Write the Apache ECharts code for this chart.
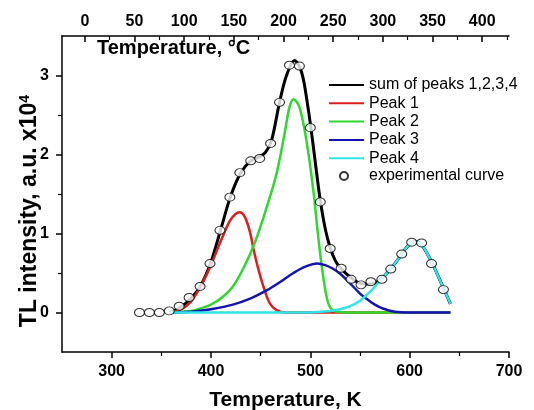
<!DOCTYPE html>
<html>
<head>
<meta charset="utf-8">
<script src="https://cdn.jsdelivr.net/npm/echarts@6/dist/echarts.min.js"></script>
<style>
  html, body { margin: 0; padding: 0; background: #fff; }
  #chart { width: 534px; height: 410px; }
</style>
</head>
<body>
<div id="chart"></div>
<script>
// temperatures in K, intensities in units of 1e4
const expT = [328, 338, 348, 358, 368, 378, 389, 399, 409, 419, 429, 440, 449, 460, 469, 479, 489, 500, 510, 520, 531, 541, 551, 561, 572, 581, 592, 602, 612, 622, 634];
const expI = [0.00, 0.00, 0.00, 0.02, 0.08, 0.19, 0.33, 0.62, 1.04, 1.46, 1.77, 1.92, 1.95, 2.14, 2.66, 3.13, 3.12, 2.34, 1.40, 0.81, 0.56, 0.42, 0.35, 0.39, 0.42, 0.55, 0.74, 0.89, 0.88, 0.62, 0.29];

const sumT = [358, 365, 370, 380, 390, 400, 410, 420, 430, 440, 449, 455, 461, 469, 476, 484, 491, 497, 502, 506, 510, 515, 520, 525, 530, 540, 550, 560, 570, 580, 590, 598, 606, 612, 622, 634, 641];
const sumI = [0.00, 0.03, 0.07, 0.18, 0.35, 0.64, 1.06, 1.48, 1.77, 1.92, 1.97, 2.03, 2.18, 2.66, 3.00, 3.19, 3.05, 2.65, 2.20, 1.80, 1.42, 1.06, 0.82, 0.66, 0.57, 0.45, 0.37, 0.36, 0.41, 0.54, 0.70, 0.84, 0.90, 0.86, 0.64, 0.31, 0.11];

const peak1T = [358, 370, 380, 389, 399, 409, 419, 425, 429, 434, 439, 443, 447, 452, 459, 466, 475, 641];
const peak1I = [0.00, 0.04, 0.14, 0.32, 0.57, 0.88, 1.16, 1.25, 1.27, 1.21, 1.03, 0.79, 0.58, 0.36, 0.12, 0.03, 0.00, 0.00];

const peak2T = [358, 370, 380, 389, 400, 411, 422, 433, 444, 456, 466, 474, 479, 483, 489, 496, 503, 508, 513, 518, 524, 535, 641];
const peak2I = [0.00, 0.01, 0.02, 0.05, 0.10, 0.19, 0.33, 0.57, 0.88, 1.33, 1.76, 2.26, 2.60, 2.70, 2.60, 2.18, 1.55, 0.95, 0.45, 0.12, 0.02, 0.00, 0.00];

const peak3T = [358, 380, 400, 422, 440, 456, 470, 483, 495, 507, 515, 522, 530, 540, 550, 557, 565, 573, 585, 600, 641];
const peak3I = [0.00, 0.01, 0.04, 0.10, 0.18, 0.28, 0.39, 0.50, 0.58, 0.62, 0.60, 0.56, 0.49, 0.37, 0.24, 0.17, 0.10, 0.05, 0.01, 0.00, 0.00];

const peak4T = [358, 500, 510, 520, 530, 540, 550, 560, 570, 580, 590, 598, 606, 612, 622, 634, 641];
const peak4I = [0.00, 0.00, 0.01, 0.02, 0.04, 0.08, 0.15, 0.26, 0.40, 0.54, 0.70, 0.84, 0.90, 0.86, 0.64, 0.31, 0.11];

const kMajor = [300, 400, 500, 600, 700];
const kMinor = [350, 450, 550, 650];
const cMajor = [0, 50, 100, 150, 200, 250, 300, 350, 400];
const cMinor = [25, 75, 125, 175, 225, 275, 325, 375, 425];
const yMajor = [0, 1, 2, 3];
const yMinor = [0.5, 1.5, 2.5];

const lineNames = ['sum of peaks 1,2,3,4', 'Peak 1', 'Peak 2', 'Peak 3', 'Peak 4'];
const expName = 'experimental curve';

const FONT = 'Arial, "Liberation Sans", sans-serif';
const zip = (xs, ys) => xs.map((x, i) => [x, ys[i]]);

function lineSeries(name, xs, ys, color, width) {
  return {
    name: name,
    type: 'line',
    xAxisIndex: 0,
    yAxisIndex: 0,
    data: zip(xs, ys),
    symbol: 'none',
    smooth: 0.35,
    color: color,
    lineStyle: { color: color, width: width },
    silent: true
  };
}

const axisBlack = { show: true, onZero: false, lineStyle: { color: '#000', width: 1.5 } };
const noLine = { show: false, onZero: false };
const tickLabel = { color: '#000', fontFamily: FONT, fontWeight: 'bold', fontSize: 16 };

const chart = echarts.init(document.getElementById('chart'));
chart.setOption({
  animation: false,
  backgroundColor: '#fff',
  grid: { left: 62, right: 25, top: 36, bottom: 58, containLabel: false, outerBoundsMode: 'none' },
  xAxis: [
    {
      type: 'value', position: 'bottom', min: 250, max: 700,
      axisLine: axisBlack,
      axisTick: { show: true, customValues: kMajor, length: 6, lineStyle: { color: '#000', width: 1.5 } },
      axisLabel: Object.assign({ customValues: kMajor, margin: 12 }, tickLabel),
      splitLine: { show: false },
      name: 'Temperature, K', nameLocation: 'middle', nameGap: 38,
      nameTextStyle: { color: '#000', fontFamily: FONT, fontWeight: 'bold', fontSize: 21 }
    },
    {
      type: 'value', position: 'bottom', min: 250, max: 700,
      axisLine: noLine,
      axisTick: { show: true, customValues: kMinor, length: 4, lineStyle: { color: '#000', width: 1.2 } },
      axisLabel: { show: false },
      splitLine: { show: false }
    },
    {
      type: 'value', position: 'top', min: 250 - 273, max: 700 - 273,
      axisLine: axisBlack,
      axisTick: { show: true, inside: true, customValues: cMajor, length: 6, lineStyle: { color: '#000', width: 1.5 } },
      axisLabel: Object.assign({ customValues: cMajor, margin: 6 }, tickLabel),
      splitLine: { show: false }
    },
    {
      type: 'value', position: 'top', min: 250 - 273, max: 700 - 273,
      axisLine: noLine,
      axisTick: { show: true, inside: true, customValues: cMinor, length: 4, lineStyle: { color: '#000', width: 1.2 } },
      axisLabel: { show: false },
      splitLine: { show: false }
    }
  ],
  yAxis: [
    {
      type: 'value', position: 'left', min: -0.5, max: 3.5,
      axisLine: axisBlack,
      axisTick: { show: true, customValues: yMajor, length: 6, lineStyle: { color: '#000', width: 1.5 } },
      axisLabel: Object.assign({ customValues: yMajor, margin: 13 }, tickLabel),
      splitLine: { show: false }
    },
    {
      type: 'value', position: 'left', offset: 0, min: -0.5, max: 3.5,
      axisLine: noLine,
      axisTick: { show: true, customValues: yMinor, length: 4, lineStyle: { color: '#000', width: 1.2 } },
      axisLabel: { show: false },
      splitLine: { show: false }
    }
  ],
  legend: [
    {
      data: lineNames,
      orient: 'vertical', left: 328, top: 77, padding: 0,
      itemWidth: 35, itemHeight: 16, itemGap: 2.3,
      itemStyle: { opacity: 0 },
      textStyle: { color: '#000', fontFamily: FONT, fontSize: 16, lineHeight: 16 },
      selectedMode: false
    },
    {
      data: [expName],
      orient: 'vertical', left: 339, top: 168, padding: 0,
      itemWidth: 8, itemHeight: 8,
      textStyle: { color: '#000', fontFamily: FONT, fontSize: 16, lineHeight: 16, padding: [0, 0, 0, 16] },
      selectedMode: false
    }
  ],
  graphic: [
    {
      type: 'text', x: 97, y: 48,
      style: {
        text: 'Temperature, °C', fill: '#000', font: 'bold 20px ' + FONT,
        textAlign: 'left', textVerticalAlign: 'middle'
      }
    },
    {
      type: 'text', x: 30, y: 211, rotation: Math.PI / 2,
      style: {
        text: '{a|TL intensity, a.u. x10}{s|4}',
        textAlign: 'center', textVerticalAlign: 'middle',
        rich: {
          a: { fill: '#000', fontFamily: FONT, fontWeight: 'bold', fontSize: 23, lineHeight: 24 },
          s: { fill: '#000', fontFamily: FONT, fontWeight: 'bold', fontSize: 14, lineHeight: 14, verticalAlign: 'top' }
        }
      }
    }
  ],
  series: [
    lineSeries(lineNames[0], sumT, sumI, '#000000', 3),
    lineSeries(lineNames[1], peak1T, peak1I, '#dc1e1e', 2.5),
    lineSeries(lineNames[2], peak2T, peak2I, '#2fd82f', 2.5),
    lineSeries(lineNames[3], peak3T, peak3I, '#1414b4', 2.5),
    lineSeries(lineNames[4], peak4T, peak4I, '#2ee4e8', 2.5),
    {
      name: expName,
      type: 'scatter',
      xAxisIndex: 0,
      yAxisIndex: 0,
      data: zip(expT, expI),
      symbol: 'circle',
      symbolSize: [10, 8],
      itemStyle: { color: '#fff', borderColor: '#000', borderWidth: 1 },
      z: 5,
      silent: true
    }
  ]
});
</script>
</body>
</html>
